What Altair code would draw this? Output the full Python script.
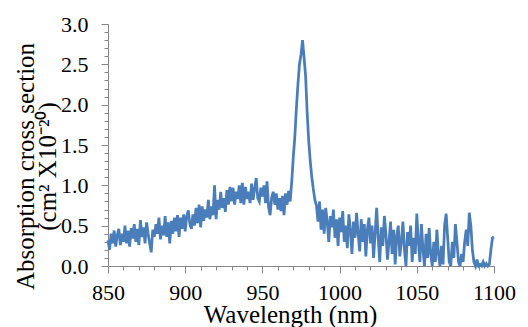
import altair as alt
import pandas as pd

# Absorption cross section (x1e-20 cm^2), read at 1 nm steps from 850 to 1100 nm
absorption = [
    0.32, 0.20, 0.40, 0.28, 0.44, 0.24, 0.38, 0.46, 0.26, 0.40,   # 850-859
    0.30, 0.50, 0.28, 0.44, 0.24, 0.47, 0.34, 0.52, 0.30, 0.46,   # 860-869
    0.26, 0.57, 0.36, 0.48, 0.28, 0.54, 0.40, 0.28, 0.17, 0.45,   # 870-879
    0.36, 0.52, 0.40, 0.60, 0.33, 0.50, 0.38, 0.62, 0.36, 0.54,   # 880-889
    0.28, 0.56, 0.40, 0.60, 0.43, 0.63, 0.36, 0.60, 0.46, 0.64,   # 890-899
    0.43, 0.62, 0.69, 0.52, 0.46, 0.64, 0.50, 0.72, 0.53, 0.76,   # 900-909
    0.48, 0.74, 0.56, 0.70, 0.60, 0.82, 0.58, 0.74, 0.63, 1.00,   # 910-919
    0.58, 0.82, 0.70, 0.92, 0.72, 0.84, 0.67, 0.94, 0.76, 0.98,   # 920-929
    0.80, 0.97, 0.76, 0.92, 0.83, 1.00, 0.78, 1.03, 0.76, 0.98,   # 930-939
    0.83, 0.92, 0.78, 1.02, 0.82, 0.96, 1.09, 0.84, 0.80, 0.97,   # 940-949
    0.86, 1.00, 0.78, 1.05, 0.73, 0.63, 0.85, 0.92, 0.76, 0.90,   # 950-959
    0.70, 0.84, 0.68, 0.87, 0.63, 0.90, 0.76, 0.93, 0.80, 1.05,   # 960-969
    1.35, 1.60, 1.95, 2.25, 2.50, 2.62, 2.80, 2.58, 2.35, 1.90,   # 970-979
    1.55, 1.30, 1.10, 0.95, 0.82, 0.75, 0.55, 0.80, 0.45, 0.70,   # 980-989
    0.40, 0.72, 0.55, 0.30, 0.62, 0.48, 0.70, 0.35, 0.58, 0.25,   # 990-999
    0.60, 0.42, 0.68, 0.30, 0.50, 0.22, 0.64, 0.45, 0.15, 0.55,   # 1000-1009
    0.35, 0.66, 0.40, 0.18, 0.58, 0.30, 0.52, 0.12, 0.45, 0.60,   # 1010-1019
    0.28, 0.50, 0.10, 0.40, 0.72, 0.35, 0.05, 0.48, 0.25, 0.62,   # 1020-1029
    0.40, 0.08, 0.30, 0.55, 0.15, 0.45, 0.02, 0.38, 0.50, 0.12,   # 1030-1039
    0.30, 0.55, 0.20, 0.00, 0.42, 0.25, 0.50, 0.05, 0.35, 0.15,   # 1040-1049
    0.65, 0.30, 0.05, 0.52, 0.20, 0.00, 0.40, 0.10, 0.47, 0.15,   # 1050-1059
    0.00, 0.30, 0.05, 0.45, 0.15, 0.00, 0.25, 0.02, 0.50, 0.65,   # 1060-1069
    0.35, 0.05, 0.00, 0.30, 0.10, 0.52, 0.30, 0.05, 0.00, 0.15,   # 1070-1079
    0.05, 0.30, 0.45, 0.25, 0.66, 0.50, 0.20, 0.05, 0.00, 0.08,   # 1080-1089
    0.00, 0.02, 0.00, 0.05, 0.00, 0.03, 0.00, 0.02, 0.20, 0.35,   # 1090-1099
    0.36,                                                         # 1100
]
wavelength = list(range(850, 850 + len(absorption)))

x_major = [850, 900, 950, 1000, 1050, 1100]
x_minor = list(range(850, 1101, 10))
y_major = [0.0, 0.5, 1.0, 1.5, 2.0, 2.5, 3.0]
y_minor = [i / 10 for i in range(31)]

y_title = ["Absorption cross section", "(cm\u00b2 X10\u207b\u00b2\u2070)"]
x_title = "Wavelength (nm)"

df = pd.DataFrame({"wavelength": wavelength, "absorption": absorption})

FONT = "Liberation Serif"
AXC = "#868686"

xs = alt.Scale(domain=[850, 1100], nice=False, zero=False)
ys = alt.Scale(domain=[0, 3], nice=False)

minor = alt.Chart(df).mark_line(opacity=0).encode(
    x=alt.X("wavelength:Q", scale=xs, axis=alt.Axis(
        values=x_minor, labels=False, domain=False, grid=False, tickSize=4,
        tickColor=AXC, title=None, orient="bottom")),
    y=alt.Y("absorption:Q", scale=ys, axis=alt.Axis(
        values=y_minor, labels=False, domain=False, grid=False, tickSize=4,
        tickColor=AXC, title=None, orient="left")),
)

line = alt.Chart(df).mark_line(color="#4a7ebb", strokeWidth=2.75).encode(
    x=alt.X("wavelength:Q", scale=xs, axis=alt.Axis(
        values=x_major, grid=False, tickSize=7, tickColor=AXC, domainColor=AXC,
        labelPadding=9, labelFlush=False, labelOverlap=False, format="d",
        title=x_title, titleX=182, titleY=56,
        titleAlign="center", titleBaseline="alphabetic", orient="bottom")),
    y=alt.Y("absorption:Q", scale=ys, axis=alt.Axis(
        values=y_major, grid=False, tickSize=7, tickColor=AXC, domainColor=AXC,
        labelPadding=13, labelFlush=False, labelOverlap=False, format=".1f",
        title=y_title, titleAngle=270, titleX=-75, titleY=142,
        titleAlign="center", titleBaseline="alphabetic", titleLineHeight=22,
        orient="left")),
)

chart = alt.layer(minor, line).resolve_axis(
    x="independent", y="independent"
).properties(
    width=386, height=242,
    autosize=alt.AutoSizeParams(type="none"),
    padding={"left": 100, "top": 16, "right": 26, "bottom": 61},
).configure_view(stroke=None).configure_axis(
    labelFont=FONT, labelFontSize=22, labelColor="black",
    titleFont=FONT, titleFontSize=25, titleFontWeight="normal", titleColor="black",
)

chart.save("out.html", embed_options={"renderer": "svg", "actions": False})
